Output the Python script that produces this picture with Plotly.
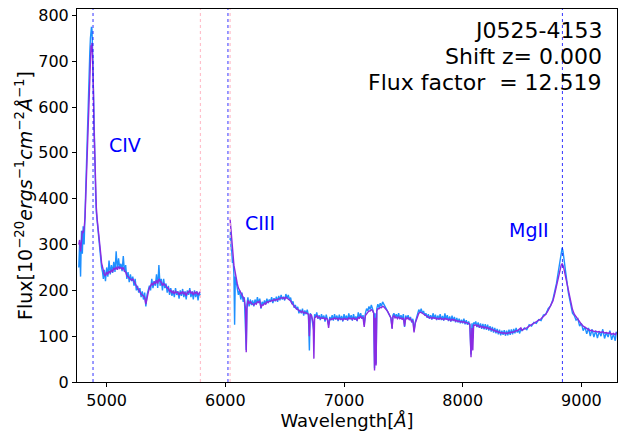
"""
Quasar spectrum J0525-4153: two overlapping spectra (blue, purple) with
marked emission lines (CIV, CIII, MgII) and the detector gap edges.
"""
import plotly.graph_objects as go

# segment before the detector gap: wavelength, blue flux, purple flux
SEG1_WAVE = [
    4765, 4772, 4780, 4788, 4795, 4802, 4810, 4818, 4825, 4832, 4840, 4847,
    4853, 4858, 4863, 4868, 4872, 4876, 4880, 4884, 4888, 4893, 4898, 4903,
    4908, 4913, 4920, 4928, 4935, 4942, 4950, 4957, 4965, 4972, 4980, 4990,
    5000, 5010, 5020, 5030, 5040, 5050, 5060, 5070, 5080, 5090, 5100, 5110,
    5120, 5130, 5140, 5150, 5160, 5170, 5180, 5190, 5200, 5210, 5220, 5230,
    5240, 5250, 5260, 5270, 5280, 5290, 5300, 5310, 5320, 5330, 5340, 5350,
    5360, 5370, 5380, 5390, 5400, 5410, 5420, 5430, 5440, 5450, 5460, 5470,
    5480, 5490, 5500, 5510, 5520, 5530, 5540, 5550, 5560, 5570, 5580, 5590,
    5600, 5610, 5620, 5630, 5640, 5650, 5660, 5670, 5680, 5690, 5700, 5710,
    5720, 5730, 5740, 5750, 5760, 5770, 5780, 5790,
]
SEG1_BLUE = [
    250, 300, 230, 330, 280, 340, 300, 380, 430, 470, 560, 620,
    690, 720, 750, 760, 775, 770, 750, 700, 640, 560, 480, 430,
    400, 370, 350, 340, 310, 295, 270, 250, 240, 225, 245, 220,
    250, 230, 265, 235, 255, 238, 262, 240, 285, 245, 270, 248,
    258, 242, 275, 240, 255, 225, 240, 218, 235, 220, 230, 210,
    225, 200, 210, 195, 205, 185, 198, 180, 195, 165, 190, 200,
    210, 200, 225, 205, 220, 210, 235, 205, 255, 210, 225, 200,
    225, 205, 215, 195, 210, 190, 205, 188, 200, 185, 205, 190,
    198, 182, 200, 188, 203, 185, 198, 180, 200, 190, 205, 185,
    198, 180, 200, 185, 198, 178, 195, 188,
]
SEG1_PURPLE = [
    300, 310, 285, 320, 330, 325, 335, 360, 420, 450, 540, 600,
    650, 680, 700, 735, 720, 740, 715, 690, 640, 560, 500, 440,
    400, 380, 355, 330, 310, 295, 280, 260, 250, 240, 235, 232,
    240, 235, 242, 238, 245, 240, 248, 246, 250, 245, 252, 248,
    250, 246, 250, 242, 240, 232, 230, 226, 225, 222, 225, 218,
    215, 210, 205, 200, 198, 192, 190, 188, 185, 170, 185, 195,
    205, 210, 215, 212, 218, 215, 222, 215, 225, 220, 218, 210,
    215, 212, 210, 205, 205, 198, 200, 195, 198, 192, 198, 195,
    196, 190, 195, 193, 198, 192, 195, 188, 196, 195, 200, 194,
    196, 190, 197, 193, 197, 190, 196, 198,
]

# segment after the detector gap
SEG2_WAVE = [
    6040, 6044, 6048, 6054, 6060, 6066, 6072, 6078, 6084, 6092, 6100, 6110,
    6120, 6130, 6140, 6150, 6160, 6170, 6176, 6182, 6190, 6200, 6210, 6220,
    6230, 6240, 6250, 6260, 6270, 6280, 6290, 6300, 6310, 6320, 6330, 6340,
    6350, 6360, 6370, 6380, 6390, 6400, 6410, 6420, 6430, 6440, 6450, 6460,
    6470, 6480, 6490, 6500, 6510, 6520, 6530, 6540, 6550, 6560, 6570, 6580,
    6590, 6600, 6610, 6620, 6630, 6640, 6650, 6660, 6670, 6680, 6690, 6700,
    6708, 6715, 6725, 6740, 6746, 6752, 6760, 6770, 6780, 6790, 6800, 6810,
    6820, 6830, 6840, 6850, 6860, 6870, 6880, 6890, 6900, 6910, 6920, 6930,
    6940, 6950, 6960, 6970, 6980, 6990, 7000, 7010, 7020, 7030, 7040, 7050,
    7060, 7070, 7080, 7090, 7100, 7110, 7120, 7130, 7140, 7150, 7160, 7170,
    7180, 7190, 7200, 7210, 7220, 7230, 7240, 7250, 7257, 7262, 7270, 7276,
    7285, 7295, 7305, 7315, 7325, 7335, 7345, 7355, 7365, 7375, 7385, 7395,
    7405, 7412, 7420, 7430, 7440, 7450, 7460, 7470, 7480, 7490, 7500, 7510,
    7520, 7530, 7540, 7550, 7560, 7570, 7580, 7590, 7600, 7610, 7620, 7630,
    7640, 7650, 7660, 7670, 7680, 7690, 7700, 7710, 7720, 7730, 7740, 7750,
    7760, 7770, 7780, 7790, 7800, 7810, 7820, 7830, 7840, 7850, 7860, 7870,
    7880, 7890, 7900, 7910, 7920, 7930, 7940, 7950, 7960, 7970, 7980, 7990,
    8000, 8010, 8020, 8030, 8040, 8050, 8060, 8070, 8078, 8085, 8092, 8100,
    8110, 8120, 8130, 8140, 8150, 8160, 8170, 8180, 8190, 8200, 8210, 8220,
    8230, 8240, 8250, 8260, 8270, 8280, 8290, 8300, 8310, 8320, 8330, 8340,
    8350, 8360, 8370, 8380, 8390, 8400, 8410, 8420, 8430, 8440, 8450, 8460,
    8470, 8480, 8490, 8500, 8520, 8540, 8560, 8580, 8600, 8620, 8640, 8660,
    8680, 8700, 8720, 8740, 8760, 8775, 8790, 8805, 8818, 8830, 8838, 8845,
    8852, 8860, 8870, 8880, 8890, 8900, 8912, 8925, 8940, 8955, 8970, 8985,
    9000, 9015, 9030, 9045, 9060, 9075, 9090, 9105, 9120, 9135, 9150, 9165,
    9180, 9195, 9210, 9225, 9240, 9255, 9270, 9285, 9295,
]
SEG2_BLUE = [
    310, 330, 290, 285, 260, 265, 235, 125, 230, 215, 205, 190,
    200, 180, 195, 175, 185, 120, 70, 170, 185, 165, 180, 168,
    178, 165, 180, 170, 185, 172, 182, 160, 175, 168, 178, 170,
    182, 172, 180, 175, 185, 172, 183, 176, 186, 175, 188, 178,
    190, 180, 186, 178, 192, 182, 190, 180, 184, 170, 176, 162,
    168, 158, 164, 150, 158, 150, 160, 145, 156, 148, 158, 145,
    69, 150, 145, 120, 110, 148, 140, 152, 138, 146, 135, 148,
    138, 145, 132, 147, 136, 125, 142, 135, 146, 134, 148, 136,
    145, 133, 147, 135, 144, 132, 148, 136, 145, 134, 150, 137,
    146, 134, 148, 136, 143, 133, 152, 140, 150, 138, 146, 125,
    150, 160, 155, 165, 158, 168, 160, 150, 30, 150, 40, 160,
    170, 162, 172, 165, 175, 168, 165, 160, 155, 152, 148, 140,
    118, 146, 150, 142, 148, 140, 150, 138, 146, 136, 148, 120,
    145, 138, 146, 136, 142, 130, 138, 112, 130, 140, 150, 158,
    152, 160, 150, 155, 145, 150, 140, 148, 138, 146, 136, 150,
    138, 147, 135, 145, 136, 148, 135, 144, 134, 150, 136, 146,
    133, 143, 132, 145, 133, 142, 130, 140, 130, 138, 128, 136,
    128, 138, 126, 135, 125, 132, 124, 60, 128, 95, 130, 126,
    132, 120, 130, 118, 128, 116, 127, 115, 126, 114, 125, 112,
    122, 110, 120, 108, 118, 106, 116, 104, 114, 102, 112, 103,
    113, 101, 112, 102, 114, 103, 115, 104, 116, 106, 118, 108,
    114, 106, 116, 112, 118, 114, 125, 122, 130, 128, 136, 134,
    146, 148, 160, 166, 180, 195, 215, 240, 262, 280, 293, 285,
    270, 255, 236, 215, 195, 182, 168, 150, 145, 135, 138, 122,
    128, 112, 120, 105, 118, 100, 115, 98, 112, 96, 110, 100,
    115, 95, 108, 98, 112, 92, 105, 90, 110,
]
SEG2_PURPLE = [
    355, 345, 320, 305, 290, 275, 255, 245, 232, 228, 215, 205,
    200, 192, 188, 182, 180, 160, 65, 160, 178, 172, 175, 172,
    170, 168, 172, 170, 175, 174, 176, 162, 168, 168, 172, 170,
    175, 174, 176, 176, 178, 177, 180, 178, 180, 179, 182, 182,
    184, 183, 184, 181, 185, 183, 182, 178, 177, 172, 168, 165,
    162, 160, 158, 155, 153, 152, 155, 150, 152, 150, 150, 148,
    100, 148, 146, 130, 51, 140, 142, 145, 140, 142, 138, 140,
    139, 140, 136, 139, 137, 118, 138, 136, 138, 137, 140, 138,
    139, 136, 139, 137, 138, 135, 139, 137, 138, 136, 140, 138,
    139, 136, 140, 137, 138, 135, 141, 139, 143, 140, 141, 120,
    145, 150, 152, 155, 155, 158, 156, 150, 25, 140, 36, 155,
    160, 160, 163, 162, 165, 164, 162, 158, 155, 150, 148, 140,
    116, 142, 145, 140, 142, 138, 142, 138, 140, 137, 140, 122,
    140, 138, 140, 136, 138, 132, 134, 108, 128, 135, 145, 150,
    152, 152, 150, 148, 146, 144, 142, 142, 140, 141, 138, 141,
    139, 140, 137, 139, 137, 140, 137, 138, 136, 139, 137, 138,
    135, 137, 134, 137, 135, 136, 133, 134, 132, 133, 131, 132,
    130, 132, 129, 130, 128, 128, 126, 54, 118, 69, 124, 124,
    125, 122, 124, 120, 122, 119, 121, 118, 120, 117, 119, 116,
    117, 114, 115, 112, 113, 110, 111, 108, 109, 107, 108, 106,
    108, 105, 107, 106, 108, 107, 109, 108, 110, 110, 112, 112,
    115, 116, 118, 113, 116, 118, 122, 125, 128, 131, 134, 138,
    143, 148, 156, 165, 177, 192, 210, 232, 248, 255, 258, 255,
    248, 238, 225, 210, 195, 182, 170, 158, 148, 142, 136, 130,
    126, 122, 119, 116, 115, 112, 113, 110, 111, 109, 110, 108,
    110, 107, 108, 106, 108, 104, 106, 103, 108,
]

# emission lines (observed wavelength) and the labels next to them
LINE_WAVES = [4885, 6022, 8840]
LINE_LABELS = ["CIV", "CIII", "MgII"]
LABEL_POS = [(5000, 517), (6145, 346), (8376, 331)]
# edges of the detector gap
GAP_EDGES = [5790, 6040]

TITLE_LINES = ["J0525-4153", "Shift z= 0.000", "Flux factor \u00a0= 12.519"]

X_RANGE = [4750, 9300]
Y_RANGE = [0, 814]
X_TICKS = [5000, 6000, 7000, 8000, 9000]
Y_TICKS = [0, 100, 200, 300, 400, 500, 600, 700, 800]

FONT = "DejaVu Sans, Verdana, sans-serif"

wave = SEG1_WAVE + [5791] + SEG2_WAVE
blue = SEG1_BLUE + [None] + SEG2_BLUE
purple = SEG1_PURPLE + [None] + SEG2_PURPLE

fig = go.Figure()
fig.add_trace(go.Scatter(x=wave, y=blue, mode="lines",
                         line=dict(color="#1E90FF", width=1.4), showlegend=False))
fig.add_trace(go.Scatter(x=wave, y=purple, mode="lines",
                         line=dict(color="#8A2BE2", width=1.4), showlegend=False))

for w in GAP_EDGES:
    fig.add_shape(type="line", xref="x", yref="paper", x0=w, x1=w, y0=0, y1=1,
                  line=dict(color="#FFC0CB", width=1.2, dash="dot"))
for w in LINE_WAVES:
    fig.add_shape(type="line", xref="x", yref="paper", x0=w, x1=w, y0=0, y1=1,
                  line=dict(color="#0000FF", width=0.8, dash="dot"))

for label, (lx, ly) in zip(LINE_LABELS, LABEL_POS):
    fig.add_annotation(x=lx, y=ly, text=label, showarrow=False,
                       xanchor="left", yanchor="middle",
                       font=dict(color="#0000FF", size=19, family=FONT))

for text, yp in zip(TITLE_LINES, [0.942, 0.873, 0.803]):
    fig.add_annotation(xref="paper", yref="paper", x=0.976, y=yp, text=text,
                       showarrow=False, xanchor="right", yanchor="middle",
                       font=dict(color="black", size=22, family=FONT))

fig.update_layout(
    width=628,
    height=432,
    margin=dict(l=77, r=11, t=6, b=50),
    plot_bgcolor="white",
    paper_bgcolor="white",
    font=dict(family=FONT, color="black", size=16),
)
fig.update_xaxes(
    range=X_RANGE, tickvals=X_TICKS, showgrid=False, zeroline=False,
    showline=True, linecolor="black", linewidth=1, mirror=True,
    ticks="outside", ticklen=4, tickcolor="black",
    tickfont=dict(size=16),
    title=dict(text="Wavelength[<i>Å</i>]", font=dict(size=18), standoff=0),
)
fig.update_yaxes(
    range=Y_RANGE, tickvals=Y_TICKS, showgrid=False, zeroline=False,
    showline=True, linecolor="black", linewidth=1, mirror=True,
    ticks="outside", ticklen=4, tickcolor="black",
    tickfont=dict(size=16),
    title=dict(text="Flux[10<sup>−20</sup><i>ergs</i><sup>−1</sup><i>cm</i>"
                    "<sup>−2</sup><i>Å</i><sup>−1</sup>]",
               font=dict(size=19), standoff=0),
)

# drop the browser's default 8 px body margin so the figure sits at 0,0
fig.write_html("out.html", config={"displayModeBar": False},
               post_script="document.body.style.margin = '0';")
